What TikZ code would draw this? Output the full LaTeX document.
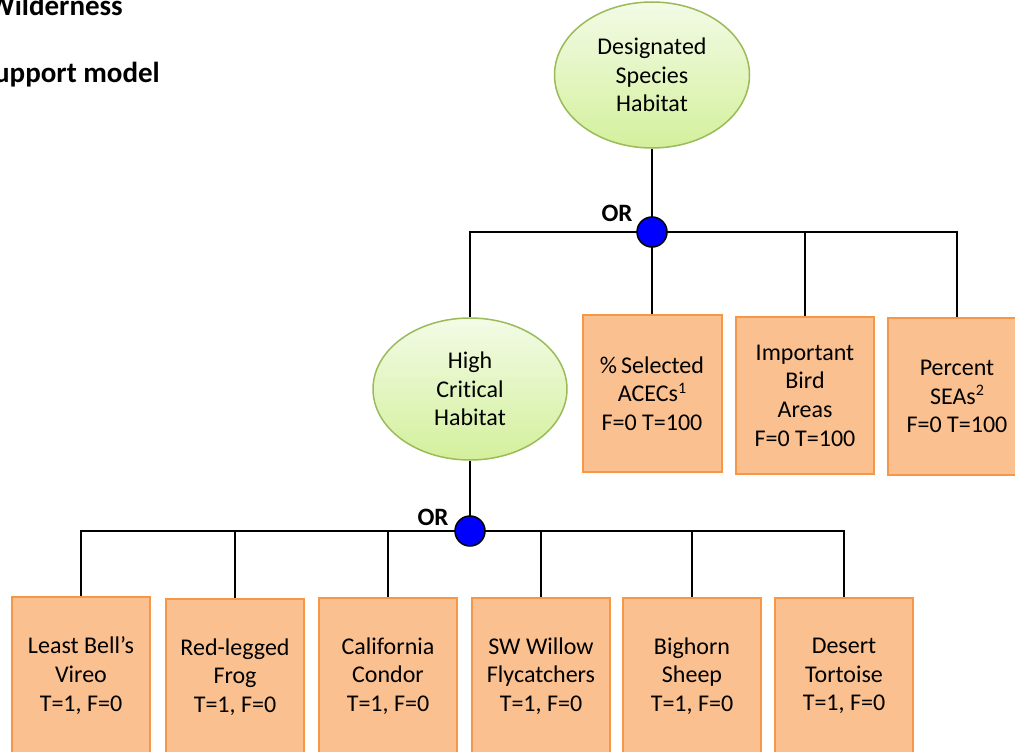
\documentclass[tikz,border=0pt]{standalone}
\usepackage{fontspec}
\setmainfont{Carlito}[Ligatures=NoCommon]
\usetikzlibrary{shapes.geometric,backgrounds}
\definecolor{boxfill}{HTML}{FAC090}
\definecolor{boxline}{HTML}{F79646}
\definecolor{elltop}{HTML}{F3FBE6}
\definecolor{ellbot}{HTML}{D3F09C}
\definecolor{ellline}{HTML}{9BBB59}
\definecolor{orblue}{HTML}{0000FF}
\newcommand{\supnum}[1]{\raisebox{0.36em}{\fontsize{16}{16}\selectfont #1}}
\begin{document}
\begin{tikzpicture}[x=1pt,y=-1pt,
  txt/.style={font=\fontsize{24}{28.7}\selectfont,align=center},
  boxnode/.style={txt,rectangle,minimum width=138pt,minimum height=157pt,inner sep=0pt,fill=boxfill,draw=boxline,line width=2pt},
  ellnode/.style={txt,ellipse,minimum width=195pt,inner sep=0pt,top color=elltop,bottom color=ellbot,draw=ellline,line width=1.5pt},
  gate/.style={circle,minimum size=30pt,inner sep=0pt,fill=orblue,draw=black,line width=1.5pt},
  gatelabel/.style={font=\fontsize{25}{30}\selectfont\bfseries,inner sep=0pt},
  headtxt/.style={font=\fontsize{29}{34}\selectfont\bfseries,inner sep=0pt,anchor=base east},
  conn/.style={draw=black,line width=1.8pt}]
\useasboundingbox (0,0) rectangle (1015,752);
\clip (0,0) rectangle (1015,752);

\node[headtxt] (h1) at (123,16) {Wilderness};
\node[headtxt] (h2) at (160,82) {support model};

\node[ellnode,minimum height=146pt] (dsh) at (652,75) {Designated\\Species\\Habitat};
\node[gate] (or1) at (652,232) {};
\node[gatelabel] (orl1) at (617,213) {OR};

\node[ellnode,minimum height=142pt,minimum width=194pt] (hch) at (470,389) {High\\Critical\\Habitat};
\node[boxnode,minimum width=139pt] (b1) at (652,393.5) {\%\,Selected\\ACECs\supnum{1}\\F=0 T=100};
\node[boxnode] (b2) at (805,395.5) {Important\\Bird\\Areas\\F=0 T=100};
\node[boxnode] (b3) at (957,396.5) {Percent\\SEAs\supnum{2}\\F=0 T=100};

\node[gate] (or2) at (470,531) {};
\node[gatelabel] (orl2) at (433,517) {OR};

\node[boxnode] (l1) at (81,675.5) {Least Bell’s\\Vireo\\T=1, F=0};
\node[boxnode] (l2) at (235,677) {Red-legged\\Frog\\T=1, F=0};
\node[boxnode] (l3) at (388,676) {California\\Condor\\T=1, F=0};
\node[boxnode] (l4) at (541,676) {SW Willow\\Flycatchers\\T=1, F=0};
\node[boxnode] (l5) at (692,676) {Bighorn\\Sheep\\T=1, F=0};
\node[boxnode] (l6) at (844,676) {Desert\\Tortoise\\T=1, F=0};

\begin{scope}[on background layer]
  \fill[white] (0,0) rectangle (1015,752);
  \draw[conn] (dsh.south) -- (or1.center);
  \draw[conn] (or1.center) -| (hch.north);
  \draw[conn] (or1.center) -- (b1.north);
  \draw[conn] (or1.center) -| (b2.north);
  \draw[conn] (or1.center) -| (b3.north);
  \draw[conn] (hch.south) -- (or2.center);
  \draw[conn] (or2.center) -| (l1.north);
  \draw[conn] (or2.center) -| (l2.north);
  \draw[conn] (or2.center) -| (l3.north);
  \draw[conn] (or2.center) -| (l4.north);
  \draw[conn] (or2.center) -| (l5.north);
  \draw[conn] (or2.center) -| (l6.north);
\end{scope}
\end{tikzpicture}
\end{document}
